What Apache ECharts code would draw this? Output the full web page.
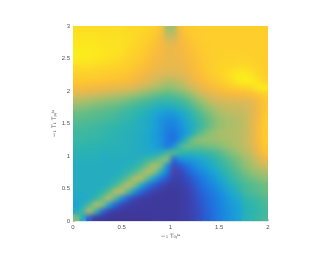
<!DOCTYPE html>
<html><head><meta charset="utf-8">
<script src="https://cdn.jsdelivr.net/npm/echarts@6/dist/echarts.min.js"></script>
<style>html,body{margin:0;padding:0;background:#fff}#w{position:relative;width:330px;height:255px}#c{width:330px;height:255px}
#soft{position:absolute;left:74px;top:26px;width:194px;height:194px;-webkit-backdrop-filter:blur(2.5px);backdrop-filter:blur(2.5px);pointer-events:none}</style></head>
<body><div id="w"><div id="c"></div><div id="soft"></div></div>
<script>
const xCenters=[.033,.1,.167,.233,.3,.367,.433,.5,.567,.633,.7,.767,.833,.9,.967,1.033,1.1,1.167,1.233,1.3,1.367,1.433,1.5,1.567,1.633,1.7,1.767,1.833,1.9,1.967];
const yCenters=[2.95,2.85,2.75,2.65,2.55,2.45,2.35,2.25,2.15,2.05,1.95,1.85,1.75,1.65,1.55,1.45,1.35,1.25,1.15,1.05,.95,.85,.75,.65,.55,.45,.35,.25,.15,.05];
const rows=[
[94,94,94,94,94,94,94,94,93,93,92,91,88,80,60,60,78,84,86,87,87,88,88,88,88,88,88,88,88,88],
[96,96,96,96,95,95,95,94,94,93,91,88,84,77,64,64,74,81,85,86,87,87,87,87,87,87,87,87,87,87],
[97,97,97,97,96,96,96,95,94,92,89,86,81,76,69,69,74,78,82,85,86,87,87,87,87,87,87,87,87,87],
[98,98,98,97,97,96,96,95,93,90,87,83,79,75,72,72,74,77,80,84,86,87,88,88,88,88,88,88,88,87],
[99,99,98,98,97,96,95,94,91,88,85,81,77,74,72,72,73,76,79,82,85,87,88,89,89,89,89,88,88,87],
[97,97,97,96,95,94,93,91,88,85,82,78,75,73,72,72,72,74,77,81,84,87,89,90,90,91,91,90,88,87],
[93,93,93,92,91,90,89,87,85,82,79,75,73,71,70,70,71,73,76,80,84,87,90,92,93,94,94,93,90,87],
[88,88,88,87,86,85,84,83,81,78,75,72,70,68,67,67,68,70,74,78,82,86,90,93,96,98,98,96,92,88],
[83,83,83,82,81,80,79,78,76,74,71,69,66,64,62,62,64,67,71,75,78,82,86,90,94,98,100,99,96,90],
[76,76,75,74,73,72,71,70,69,67,65,63,61,59,57,58,60,63,66,70,73,76,79,82,85,87,90,93,98,99],
[69,68,67,66,65,64,63,62,61,59,57,55,53,51,50,51,53,56,60,64,67,70,72,74,75,76,77,79,82,88],
[62,61,60,59,58,57,56,55,53,51,49,47,45,43,43,44,46,49,54,58,62,65,66,67,68,68,69,71,75,83],
[57,56,55,54,53,52,51,49,47,45,43,41,39,37,36,37,40,44,48,53,57,60,63,64,65,65,66,68,73,83],
[52,52,51,50,49,48,47,45,44,42,40,38,35,32,30,31,34,38,43,48,53,57,60,62,63,63,65,68,74,84],
[50,49,49,48,47,46,45,43,42,40,38,36,33,29,26,26,30,35,40,45,50,54,58,60,61,62,64,68,75,85],
[47,47,46,45,44,43,42,41,40,39,38,36,33,29,24,24,28,33,38,44,50,55,58,60,61,62,64,68,76,86],
[45,45,44,44,43,42,41,40,39,38,37,35,32,28,22,21,26,32,40,50,55,58,60,61,62,62,64,68,76,86],
[44,44,43,43,42,41,40,40,39,38,37,35,32,29,22,19,28,42,54,57,58,58,59,60,61,62,64,68,76,86],
[42,42,41,41,40,40,40,39,39,38,37,35,33,29,22,28,46,52,52,52,53,54,56,58,60,62,64,67,74,84],
[40,40,40,40,39,39,39,39,38,38,37,36,36,38,46,50,43,41,41,42,43,46,49,53,56,59,62,65,71,80],
[39,39,39,39,38,38,38,38,38,38,40,44,47,54,58,18,28,30,32,34,37,40,44,48,52,55,59,62,66,72],
[38,38,38,38,38,38,38,38,39,41,46,54,62,56,28,10,14,20,26,30,33,37,41,45,49,53,57,60,63,66],
[38,38,38,38,38,38,38,39,43,48,56,63,56,38,22,8,9,14,20,25,29,33,37,42,46,50,54,57,59,61],
[38,38,38,38,38,38,40,44,52,62,62,48,32,20,12,6,7,10,15,20,25,29,34,38,43,47,50,53,55,57],
[38,38,38,38,38,40,46,55,64,55,36,22,14,9,5,4,5,8,12,17,22,26,30,35,39,43,47,49,51,53],
[37,37,38,38,41,50,62,63,48,28,16,10,6,4,3,3,4,6,10,15,19,23,27,32,36,40,46,48,50,52],
[36,36,37,42,52,64,50,28,15,8,5,4,3,3,3,3,4,6,9,13,17,21,25,29,33,36,42,44,46,49],
[34,38,47,62,58,34,17,9,5,4,3,3,3,3,3,3,4,5,8,12,16,20,24,28,31,34,40,42,44,47],
[36,46,64,44,18,8,4,3,3,3,3,3,3,3,3,3,4,5,8,11,15,19,23,27,30,33,39,41,43,46],
[55,38,14,4,3,2,2,2,2,2,2,2,3,3,3,3,4,5,8,11,15,19,23,27,30,33,39,42,44,47]
];
const xTicks=[0,0.5,1,1.5,2];
const yTicks=[0,0.5,1,1.5,2,2.5,3];
const marker=[[1.043,0.77]];
const xTitle='\u2212\u2081 T\u2080/\u1d43';
const yTitle='\u2212\u2081 T\u2081 T\u209a/\u1d43';
const cells=[];
rows.forEach((r,j)=>r.forEach((v,i)=>cells.push([xCenters[i],yCenters[j],v])));
const ch=echarts.init(document.getElementById('c'),null,{renderer:'canvas'});
const axisLabel={fontSize:6,color:'#555',margin:3,fontFamily:'Liberation Sans',hideOverlap:false};
ch.setOption({
 animation:false,
 grid:{left:73,top:26,width:195,height:195,containLabel:false},
 xAxis:{type:'value',min:0,max:2,interval:.5,axisLabel,splitLine:{show:false},
  axisLine:{show:true,lineStyle:{color:'#e4e4e4',width:1}},axisTick:{show:true,inside:true,length:2,lineStyle:{color:'#999',width:.5}},
  name:xTitle,nameLocation:'middle',nameGap:12,nameMoveOverlap:false,nameTextStyle:{fontSize:6,color:'#666',fontFamily:'DejaVu Sans'}},
 yAxis:{type:'value',min:0,max:3,interval:.5,axisLabel,splitLine:{show:false},
  axisLine:{show:true,lineStyle:{color:'#fbd77c',width:1}},axisTick:{show:true,inside:true,length:2,lineStyle:{color:'#999',width:.5}},
  name:yTitle,nameLocation:'middle',nameGap:16,nameMoveOverlap:false,nameTextStyle:{fontSize:6,color:'#666',fontFamily:'DejaVu Sans'}},
 visualMap:{show:false,type:'continuous',min:0,max:100,dimension:2,seriesIndex:0,
  inRange:{color:['#41338f','#3a45b5','#2466dd','#1a85e0','#1ba3d5','#2db5ad','#58bb8c','#98c070','#d8b95a','#f8b93f','#fdc82f','#fdd528','#fbf01a']}},
 series:[{
  type:'custom',encode:{x:0,y:1},data:cells,clip:true,
  renderItem(params,api){
   const x=api.value(0),y=api.value(1);
   const a=api.coord([x-1/30,y+.05]),b=api.coord([x+1/30,y-.05]);
   return {type:'rect',shape:{x:a[0],y:a[1],width:b[0]-a[0]+.5,height:b[1]-a[1]+.5},style:{fill:api.visual('color')}};
  }
 },{
  type:'scatter',data:marker,symbolSize:3,itemStyle:{color:'#e8203a'},z:5
 }]
});
</script></body></html>
